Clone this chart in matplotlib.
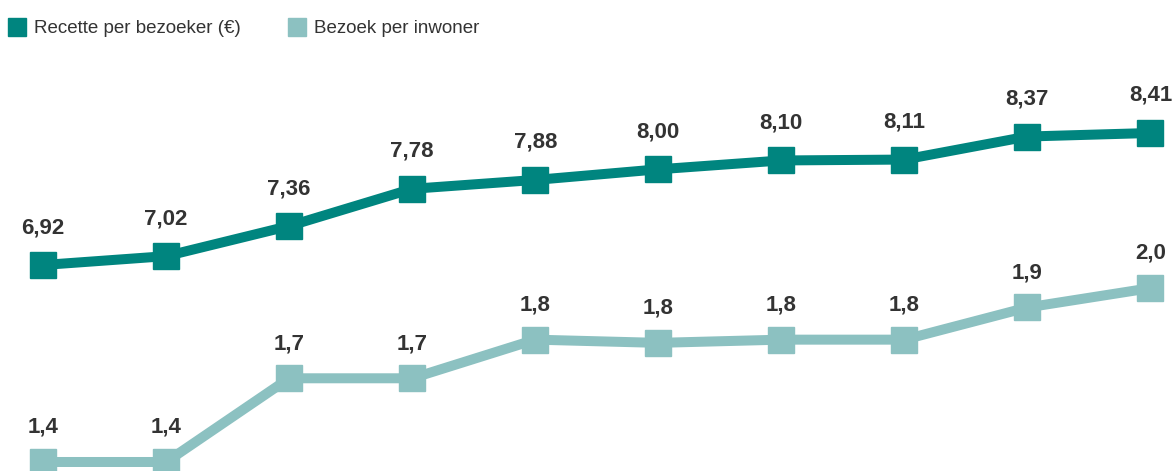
import matplotlib.pyplot as plt
from matplotlib.lines import Line2D

# data
jaren = list(range(10))
recette = [6.92, 7.02, 7.36, 7.78, 7.88, 8.00, 8.10, 8.11, 8.37, 8.41]
bezoek = [1.42, 1.42, 1.68, 1.68, 1.80, 1.79, 1.80, 1.80, 1.90, 1.96]

donker = "#00857f"
licht = "#8cc1c1"
tekst = "#333333"
plt.rcParams['font.family'] = ['Liberation Sans Narrow', 'Liberation Sans', 'DejaVu Sans']

fig = plt.figure(figsize=(11.75, 4.71), dpi=100)
ax = fig.add_axes([0, 0, 1, 1])
ax2 = ax.twinx()

ax.plot(jaren, recette, color=donker, lw=7.2, marker='s', ms=18.5)
ax2.plot(jaren, bezoek, color=licht, lw=7.2, marker='s', ms=18.5)

for x, v in zip(jaren, recette):
    ax.annotate(f"{v:.2f}".replace('.', ','), (x, v), xytext=(0, 27), textcoords='offset points',
                ha='center', va='center', fontsize=16, fontweight='bold', color=tekst)
for x, v in zip(jaren, bezoek):
    ax2.annotate(f"{v:.1f}".replace('.', ','), (x, v), xytext=(0, 25), textcoords='offset points',
                 ha='center', va='center', fontsize=16, fontweight='bold', color=tekst)

ax.set_xlim(-0.35, 9.2)
ax.set_ylim(4.595, 9.911)
ax2.set_ylim(1.392, 2.855)
for a in (ax, ax2):
    a.axis('off')

handles = [Line2D([], [], ls='none', marker='s', ms=12.5, color=donker),
           Line2D([], [], ls='none', marker='s', ms=12.5, color=licht)]
leg = fig.legend(handles, ["Recette per bezoeker (€)", "Bezoek per inwoner"], ncol=2,
                 loc='upper left', bbox_to_anchor=(-0.003, 0.985), frameon=False, fontsize=13.5,
                 handlelength=0.8, handletextpad=0.5, columnspacing=2.6, borderaxespad=0.1,
                 borderpad=0.6)
for t in leg.get_texts():
    t.set_color(tekst)

fig.savefig("out.png", dpi=100)
